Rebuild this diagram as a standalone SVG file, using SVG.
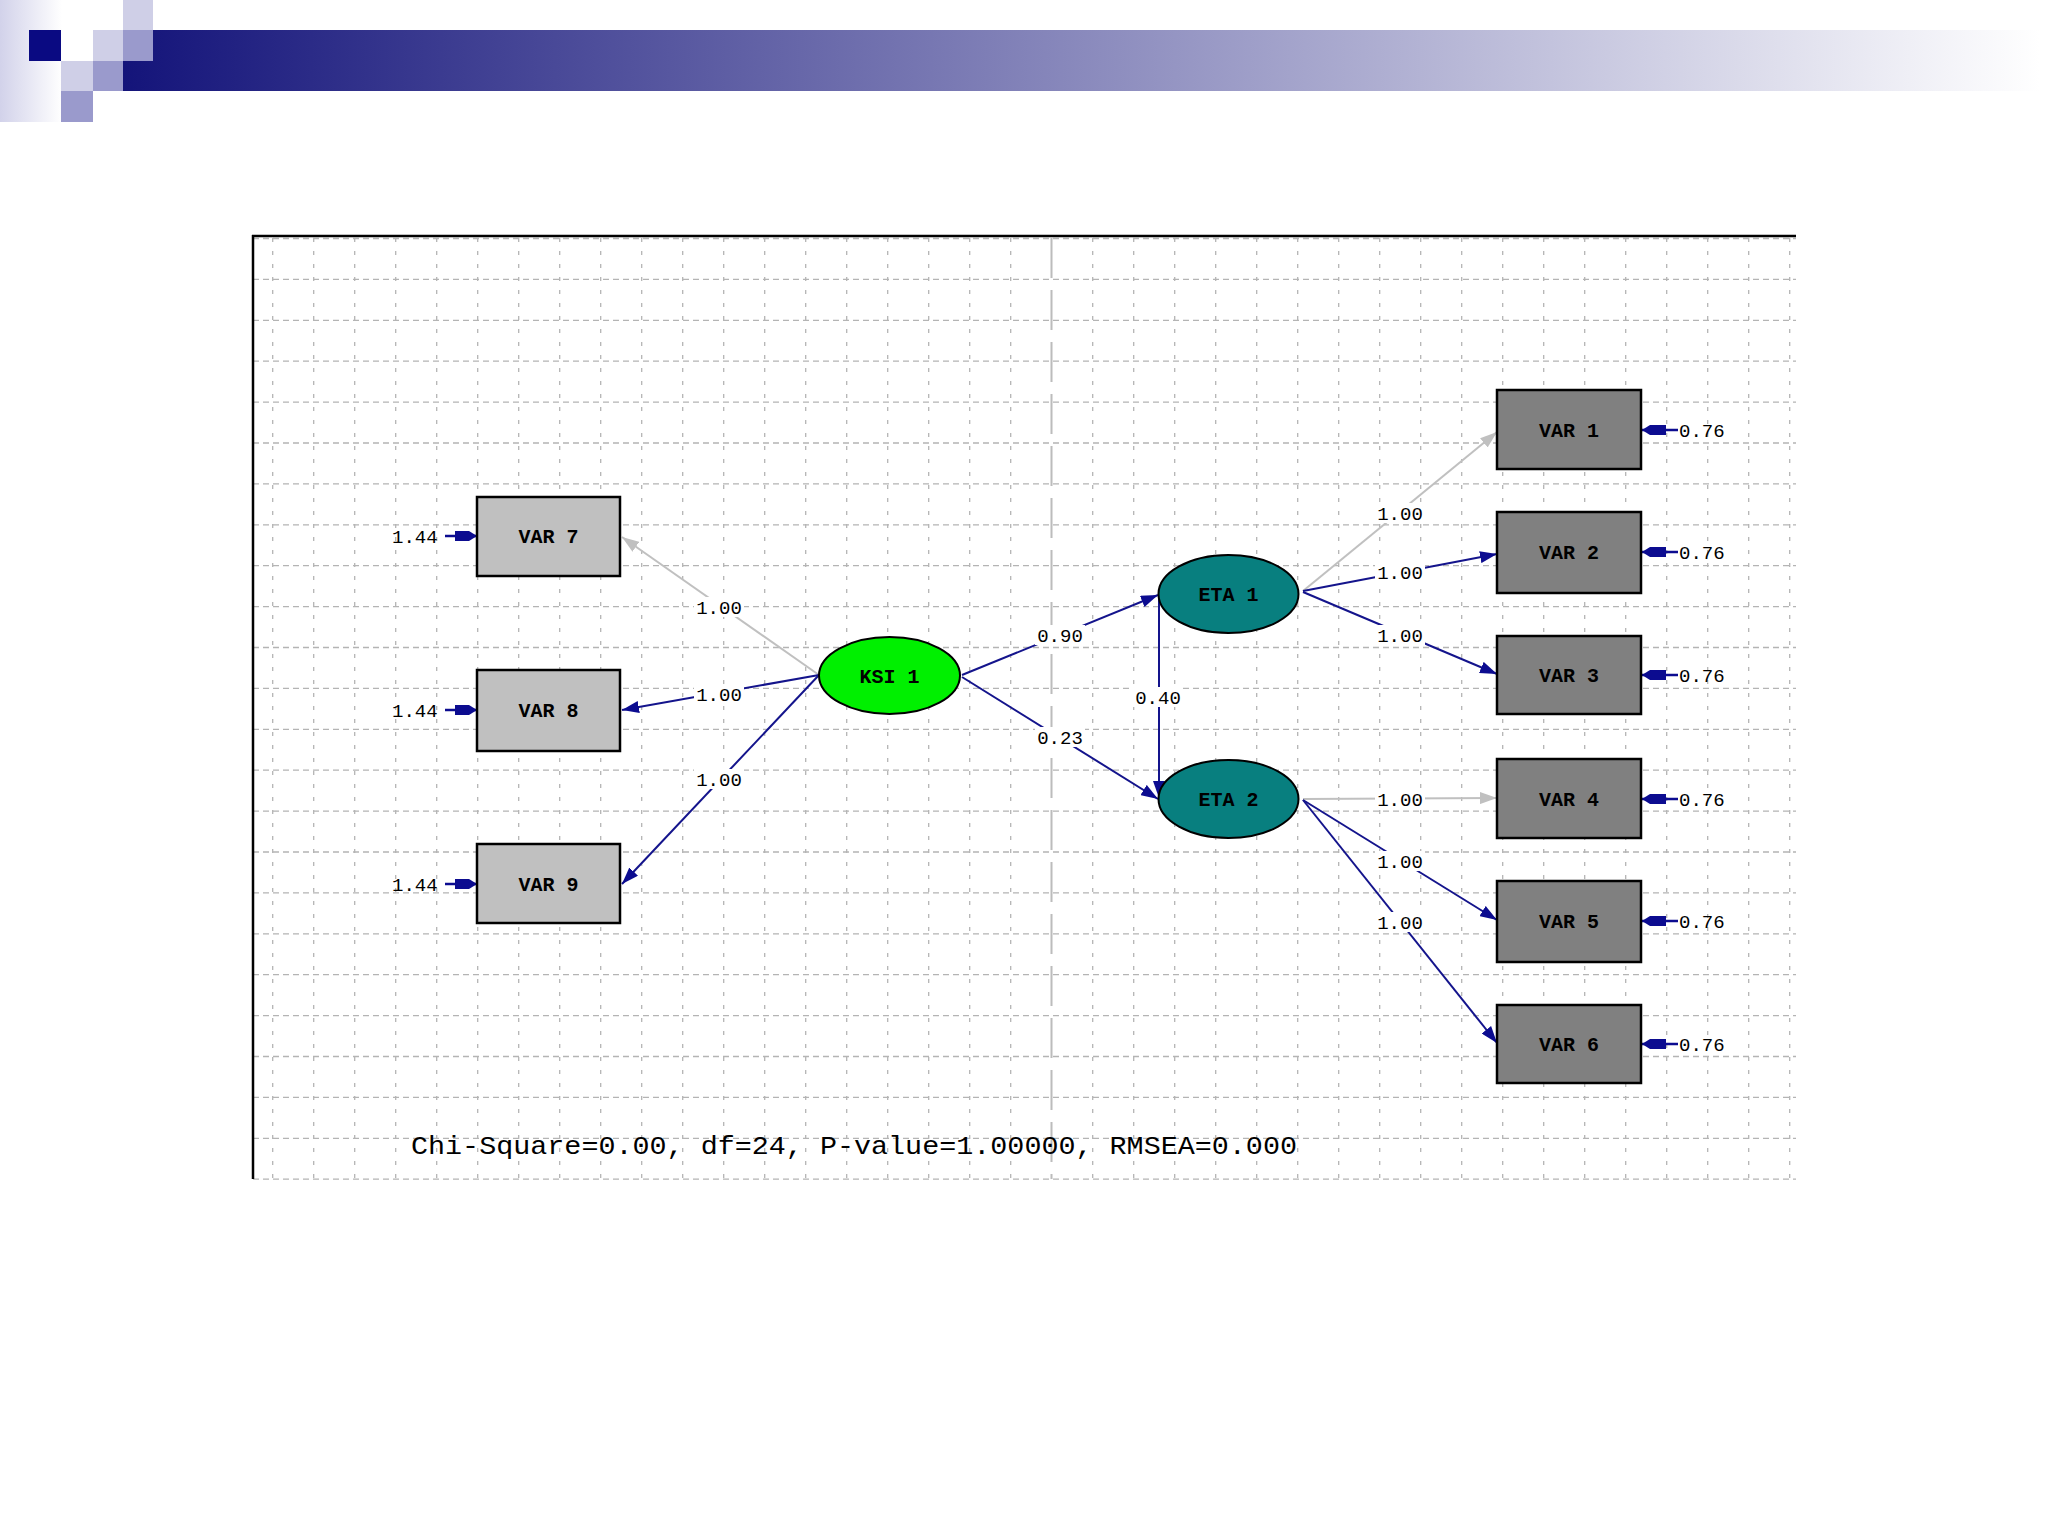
<svg xmlns="http://www.w3.org/2000/svg" xmlns:xlink="http://www.w3.org/1999/xlink" width="2048" height="1536" viewBox="0 0 2048 1536">
<style>
.grid{fill:none;stroke:#b4b4b4;stroke-width:1.3}
.gh{stroke-dasharray:6 4}
.gv{stroke-dasharray:4 9}
.obs{stroke:#000;stroke-width:2.5}
.obsL{fill:#c0c0c0}
.obsR{fill:#808080}
.lat{stroke:#000;stroke-width:2}
.txt{font-family:"Liberation Mono","DejaVu Sans Mono",monospace;fill:#000}
.node{font-size:20px;font-weight:bold}
.num{font-size:19px}
.lbg{fill:#fff}
.blue{stroke:#14148c;stroke-width:2;fill:none}
.gray{stroke:#c0c0c0;stroke-width:2;fill:none}
</style>
<defs>
<linearGradient id="bar" x1="123" y1="0" x2="2040" y2="0" gradientUnits="userSpaceOnUse">
<stop offset="0" stop-color="#14147a"/>
<stop offset="1" stop-color="#ffffff"/>
</linearGradient>
<linearGradient id="side" x1="0" y1="0" x2="1" y2="0">
<stop offset="0" stop-color="#d2d2ea"/>
<stop offset="1" stop-color="#ffffff"/>
</linearGradient>
<marker id="ab" markerUnits="userSpaceOnUse" markerWidth="18" markerHeight="12" refX="17" refY="6" orient="auto">
<path d="M0,0 L17,6 L0,12 z" fill="#0c0c90"/>
</marker>
<marker id="ag" markerUnits="userSpaceOnUse" markerWidth="18" markerHeight="12" refX="17" refY="6" orient="auto">
<path d="M0,0 L17,6 L0,12 z" fill="#c0c0c0"/>
</marker>
<g id="errL">
<line x1="-32" y1="0" x2="0" y2="0" stroke="#0c0c90" stroke-width="2.5"/>
<polygon points="-22,-5 -8,-5 0,0 -8,5 -22,5" fill="#0c0c90"/>
</g>
<g id="errR">
<line x1="0" y1="0" x2="36" y2="0" stroke="#0c0c90" stroke-width="2.5"/>
<polygon points="0,0 8,-5 24,-5 24,5 8,5" fill="#0c0c90"/>
</g>
</defs>

<rect width="2048" height="1536" fill="#fff"/>

<g id="header">
<rect x="0" y="0" width="62" height="122" fill="url(#side)"/>
<rect x="123" y="30" width="1925" height="61" fill="url(#bar)"/>
<rect x="29" y="30" width="32" height="31" fill="#0a0a82"/>
<rect x="123" y="0" width="30" height="30" fill="#cfcfe7"/>
<rect x="93" y="30" width="30" height="31" fill="#cfcfe7"/>
<rect x="123" y="30" width="30" height="31" fill="#9a9acc"/>
<rect x="61" y="61" width="32" height="30" fill="#cfcfe7"/>
<rect x="93" y="61" width="30" height="30" fill="#9a9acc"/>
<rect x="61" y="91" width="32" height="31" fill="#9a9acc"/>
</g>

<g id="grid">
<path class="grid gh" d="M253 238.5H1796M253 279.4H1796M253 320.3H1796M253 361.2H1796M253 402.1H1796M253 443H1796M253 483.9H1796M253 524.8H1796M253 565.7H1796M253 606.6H1796M253 647.5H1796M253 688.4H1796M253 729.3H1796M253 770.2H1796M253 811.1H1796M253 852H1796M253 892.9H1796M253 933.8H1796M253 974.7H1796M253 1015.6H1796M253 1056.5H1796M253 1097.4H1796M253 1138.3H1796M253 1179.2H1796"/>
<path class="grid gv" d="M272.7 238V1179M313.7 238V1179M354.7 238V1179M395.7 238V1179M436.7 238V1179M477.7 238V1179M518.7 238V1179M559.7 238V1179M600.7 238V1179M641.7 238V1179M682.7 238V1179M723.7 238V1179M764.7 238V1179M805.7 238V1179M846.7 238V1179M887.7 238V1179M928.7 238V1179M969.7 238V1179M1010.7 238V1179M1092.7 238V1179M1133.7 238V1179M1174.7 238V1179M1215.7 238V1179M1256.7 238V1179M1297.7 238V1179M1338.7 238V1179M1379.7 238V1179M1420.7 238V1179M1461.7 238V1179M1502.7 238V1179M1543.7 238V1179M1584.7 238V1179M1625.7 238V1179M1666.7 238V1179M1707.7 238V1179M1748.7 238V1179M1789.7 238V1179"/>
<line x1="1051.5" y1="238" x2="1051.5" y2="1179" stroke="#bcbcbc" stroke-width="2" stroke-dasharray="40 12"/>
<line x1="252" y1="236" x2="1796" y2="236" stroke="#000" stroke-width="2.5"/>
<line x1="253" y1="235" x2="253" y2="1179" stroke="#000" stroke-width="2.5"/>
</g>

<g id="connectors">
<line class="gray" x1="819" y1="675" x2="622" y2="537" marker-end="url(#ag)"/>
<line class="blue" x1="819" y1="675" x2="622" y2="710" marker-end="url(#ab)"/>
<line class="blue" x1="819" y1="675" x2="622" y2="884" marker-end="url(#ab)"/>
<line class="blue" x1="962" y1="675" x2="1158" y2="595" marker-end="url(#ab)"/>
<line class="blue" x1="962" y1="677" x2="1158" y2="799" marker-end="url(#ab)"/>
<line class="blue" x1="1159" y1="596" x2="1159" y2="798" marker-end="url(#ab)"/>
<line class="gray" x1="1303" y1="591" x2="1497" y2="432" marker-end="url(#ag)"/>
<line class="blue" x1="1303" y1="591" x2="1497" y2="554" marker-end="url(#ab)"/>
<line class="blue" x1="1303" y1="592" x2="1497" y2="674" marker-end="url(#ab)"/>
<line class="gray" x1="1303" y1="799" x2="1497" y2="798" marker-end="url(#ag)"/>
<line class="blue" x1="1303" y1="800" x2="1497" y2="920" marker-end="url(#ab)"/>
<line class="blue" x1="1303" y1="800" x2="1497" y2="1043" marker-end="url(#ab)"/>
<use xlink:href="#errL" transform="translate(477,536)"/>
<use xlink:href="#errL" transform="translate(477,710)"/>
<use xlink:href="#errL" transform="translate(477,884)"/>
<use xlink:href="#errR" transform="translate(1642,430)"/>
<use xlink:href="#errR" transform="translate(1642,552)"/>
<use xlink:href="#errR" transform="translate(1642,675)"/>
<use xlink:href="#errR" transform="translate(1642,799)"/>
<use xlink:href="#errR" transform="translate(1642,921)"/>
<use xlink:href="#errR" transform="translate(1642,1044)"/>
<g class="txt num" text-anchor="middle">
<rect class="lbg" x="694" y="597" width="50" height="20"/><text x="719" y="614">1.00</text>
<rect class="lbg" x="694" y="684" width="50" height="20"/><text x="719" y="701">1.00</text>
<rect class="lbg" x="694" y="769" width="50" height="20"/><text x="719" y="786">1.00</text>
<rect class="lbg" x="1035" y="625" width="50" height="20"/><text x="1060" y="642">0.90</text>
<rect class="lbg" x="1035" y="727" width="50" height="20"/><text x="1060" y="744">0.23</text>
<rect class="lbg" x="1133" y="687" width="50" height="20"/><text x="1158" y="704">0.40</text>
<rect class="lbg" x="1375" y="503" width="50" height="20"/><text x="1400" y="520">1.00</text>
<rect class="lbg" x="1375" y="562" width="50" height="20"/><text x="1400" y="579">1.00</text>
<rect class="lbg" x="1375" y="625" width="50" height="20"/><text x="1400" y="642">1.00</text>
<rect class="lbg" x="1375" y="789" width="50" height="20"/><text x="1400" y="806">1.00</text>
<rect class="lbg" x="1375" y="851" width="50" height="20"/><text x="1400" y="868">1.00</text>
<rect class="lbg" x="1375" y="912" width="50" height="20"/><text x="1400" y="929">1.00</text>
</g>
<g class="txt num" text-anchor="start">
<text x="392" y="543">1.44</text>
<text x="392" y="717">1.44</text>
<text x="392" y="891">1.44</text>
<text x="1679" y="437">0.76</text>
<text x="1679" y="559">0.76</text>
<text x="1679" y="682">0.76</text>
<text x="1679" y="806">0.76</text>
<text x="1679" y="928">0.76</text>
<text x="1679" y="1051">0.76</text>
</g>
</g>

<g id="VAR7"><rect class="obs obsL" x="477" y="497" width="143" height="79"/><text class="txt node" x="548.5" y="543" text-anchor="middle">VAR 7</text></g>
<g id="VAR8"><rect class="obs obsL" x="477" y="670" width="143" height="81"/><text class="txt node" x="548.5" y="717" text-anchor="middle">VAR 8</text></g>
<g id="VAR9"><rect class="obs obsL" x="477" y="844" width="143" height="79"/><text class="txt node" x="548.5" y="891" text-anchor="middle">VAR 9</text></g>
<g id="KSI1"><ellipse class="lat" cx="889.5" cy="675.5" rx="70.5" ry="38.5" fill="#00f000"/><text class="txt node" x="889.5" y="682.5" text-anchor="middle">KSI 1</text></g>
<g id="ETA1"><ellipse class="lat" cx="1228.5" cy="594" rx="70" ry="39" fill="#087f7f"/><text class="txt node" x="1228.5" y="601" text-anchor="middle">ETA 1</text></g>
<g id="ETA2"><ellipse class="lat" cx="1228.5" cy="799" rx="70" ry="39" fill="#087f7f"/><text class="txt node" x="1228.5" y="806" text-anchor="middle">ETA 2</text></g>
<g id="VAR1"><rect class="obs obsR" x="1497" y="390" width="144" height="79"/><text class="txt node" x="1569" y="437" text-anchor="middle">VAR 1</text></g>
<g id="VAR2"><rect class="obs obsR" x="1497" y="512" width="144" height="81"/><text class="txt node" x="1569" y="559" text-anchor="middle">VAR 2</text></g>
<g id="VAR3"><rect class="obs obsR" x="1497" y="636" width="144" height="78"/><text class="txt node" x="1569" y="682" text-anchor="middle">VAR 3</text></g>
<g id="VAR4"><rect class="obs obsR" x="1497" y="759" width="144" height="79"/><text class="txt node" x="1569" y="806" text-anchor="middle">VAR 4</text></g>
<g id="VAR5"><rect class="obs obsR" x="1497" y="881" width="144" height="81"/><text class="txt node" x="1569" y="928" text-anchor="middle">VAR 5</text></g>
<g id="VAR6"><rect class="obs obsR" x="1497" y="1005" width="144" height="78"/><text class="txt node" x="1569" y="1051" text-anchor="middle">VAR 6</text></g>

<text class="txt" x="411" y="1154" font-size="26" textLength="886" lengthAdjust="spacingAndGlyphs">Chi-Square=0.00, df=24, P-value=1.00000, RMSEA=0.000</text>
</svg>
